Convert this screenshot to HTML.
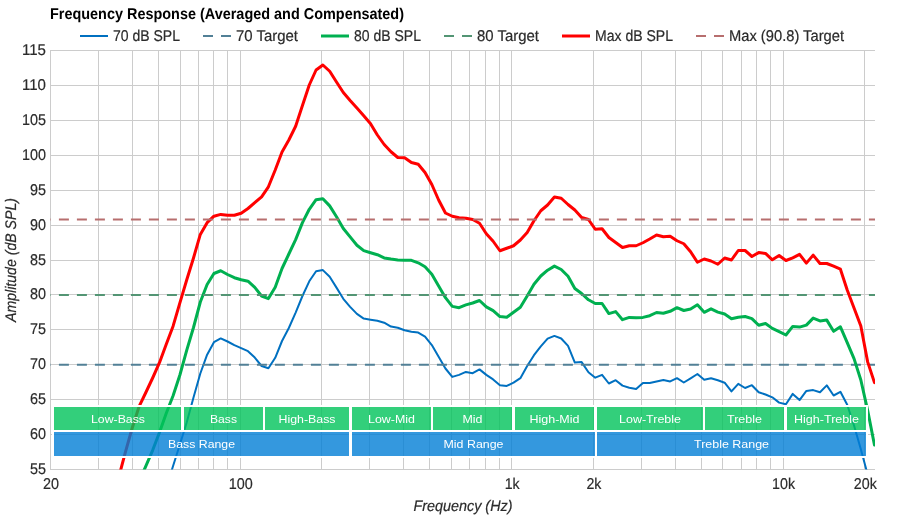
<!DOCTYPE html>
<html lang="en"><head><meta charset="utf-8"><title>Frequency Response (Averaged and Compensated)</title>
<style>html,body{margin:0;padding:0;background:#fff;}body{width:900px;height:520px;overflow:hidden;font-family:"Liberation Sans",sans-serif;}svg{display:block;}text{font-family:"Liberation Sans",sans-serif;}</style>
</head><body>
<svg width="900" height="520" viewBox="0 0 900 520">
<rect x="0" y="0" width="900" height="520" fill="#ffffff"/>
<defs><clipPath id="plot"><rect x="50.5" y="50" width="824.5" height="419.5"/></clipPath></defs>
<g stroke="#cccccc" stroke-width="1" fill="none" shape-rendering="crispEdges">
<line x1="50.5" y1="50.0" x2="50.5" y2="470.0"/>
<line x1="98.5" y1="50.0" x2="98.5" y2="470.0"/>
<line x1="132.5" y1="50.0" x2="132.5" y2="470.0"/>
<line x1="158.5" y1="50.0" x2="158.5" y2="470.0"/>
<line x1="180.5" y1="50.0" x2="180.5" y2="470.0"/>
<line x1="198.5" y1="50.0" x2="198.5" y2="470.0"/>
<line x1="213.5" y1="50.0" x2="213.5" y2="470.0"/>
<line x1="227.5" y1="50.0" x2="227.5" y2="470.0"/>
<line x1="240.5" y1="50.0" x2="240.5" y2="470.0"/>
<line x1="321.5" y1="50.0" x2="321.5" y2="470.0"/>
<line x1="369.5" y1="50.0" x2="369.5" y2="470.0"/>
<line x1="403.5" y1="50.0" x2="403.5" y2="470.0"/>
<line x1="429.5" y1="50.0" x2="429.5" y2="470.0"/>
<line x1="451.5" y1="50.0" x2="451.5" y2="470.0"/>
<line x1="469.5" y1="50.0" x2="469.5" y2="470.0"/>
<line x1="485.5" y1="50.0" x2="485.5" y2="470.0"/>
<line x1="499.5" y1="50.0" x2="499.5" y2="470.0"/>
<line x1="511.5" y1="50.0" x2="511.5" y2="470.0"/>
<line x1="593.5" y1="50.0" x2="593.5" y2="470.0"/>
<line x1="641.5" y1="50.0" x2="641.5" y2="470.0"/>
<line x1="675.5" y1="50.0" x2="675.5" y2="470.0"/>
<line x1="701.5" y1="50.0" x2="701.5" y2="470.0"/>
<line x1="722.5" y1="50.0" x2="722.5" y2="470.0"/>
<line x1="741.5" y1="50.0" x2="741.5" y2="470.0"/>
<line x1="756.5" y1="50.0" x2="756.5" y2="470.0"/>
<line x1="770.5" y1="50.0" x2="770.5" y2="470.0"/>
<line x1="783.5" y1="50.0" x2="783.5" y2="470.0"/>
<line x1="864.5" y1="50.0" x2="864.5" y2="470.0"/>
<line x1="50.0" y1="469.5" x2="875.0" y2="469.5"/>
<line x1="50.0" y1="434.5" x2="875.0" y2="434.5"/>
<line x1="50.0" y1="399.5" x2="875.0" y2="399.5"/>
<line x1="50.0" y1="364.5" x2="875.0" y2="364.5"/>
<line x1="50.0" y1="329.5" x2="875.0" y2="329.5"/>
<line x1="50.0" y1="294.5" x2="875.0" y2="294.5"/>
<line x1="50.0" y1="260.5" x2="875.0" y2="260.5"/>
<line x1="50.0" y1="225.5" x2="875.0" y2="225.5"/>
<line x1="50.0" y1="190.5" x2="875.0" y2="190.5"/>
<line x1="50.0" y1="155.5" x2="875.0" y2="155.5"/>
<line x1="50.0" y1="120.5" x2="875.0" y2="120.5"/>
<line x1="50.0" y1="85.5" x2="875.0" y2="85.5"/>
<line x1="50.0" y1="50.5" x2="875.0" y2="50.5"/>
</g>
<g clip-path="url(#plot)">
<path d="M166.26 488.00 L173.07 466.00 L179.88 444.50 L186.69 422.50 L193.50 397.50 L200.31 373.50 L207.12 354.70 L213.93 342.20 L220.74 338.40 L227.55 341.50 L234.36 345.20 L241.17 348.10 L247.98 351.20 L254.79 357.60 L261.60 366.00 L268.41 368.30 L275.22 357.80 L282.02 341.00 L288.83 328.00 L295.64 312.60 L302.45 296.00 L309.26 281.30 L316.07 271.20 L322.88 270.10 L329.69 276.80 L336.50 287.60 L343.31 298.80 L350.12 306.90 L356.93 313.90 L363.74 318.60 L370.55 319.70 L377.36 320.70 L384.17 322.70 L390.98 326.60 L397.79 327.80 L404.60 330.30 L411.41 331.80 L418.22 332.60 L425.03 336.70 L431.83 345.10 L438.64 356.80 L445.45 368.50 L452.26 376.90 L459.07 374.90 L465.88 371.90 L472.69 373.20 L479.50 369.40 L486.31 374.90 L493.12 379.40 L499.93 385.30 L506.74 385.90 L513.55 382.70 L520.36 378.20 L527.17 366.00 L533.98 355.20 L540.79 346.40 L547.60 338.70 L554.41 335.90 L561.22 338.50 L568.03 345.90 L574.84 362.60 L581.64 362.10 L588.45 372.30 L595.26 377.70 L602.07 374.80 L608.88 383.50 L615.69 380.20 L622.50 385.60 L629.31 387.70 L636.12 388.90 L642.93 382.90 L649.74 383.00 L656.55 381.50 L663.36 380.00 L670.17 381.40 L676.98 378.20 L683.79 382.50 L690.60 378.30 L697.41 374.00 L704.22 379.70 L711.03 378.20 L717.84 380.20 L724.65 382.70 L731.45 391.40 L738.26 383.80 L745.07 388.00 L751.88 385.20 L758.69 392.30 L765.50 394.50 L772.31 397.30 L779.12 402.60 L785.93 404.20 L792.74 393.90 L799.55 400.10 L806.36 390.90 L813.17 390.10 L819.98 392.30 L826.79 385.40 L833.60 395.50 L840.41 391.80 L847.22 404.80 L854.03 425.50 L860.84 449.30 L867.65 474.50 L872.65 493.00" fill="none" stroke="#0070c0" stroke-width="2" stroke-linejoin="round" stroke-linecap="round"/>
<line x1="40.9" y1="364.75" x2="880" y2="364.75" stroke="#528096" stroke-width="2" stroke-dasharray="10,8" fill="none"/>
<path d="M139.02 481.60 L145.83 466.20 L152.64 450.30 L159.45 432.50 L166.26 413.30 L173.07 395.80 L179.88 375.00 L186.69 350.30 L193.50 327.50 L200.31 302.00 L207.12 284.50 L213.93 273.50 L220.74 270.75 L227.55 274.50 L234.36 277.70 L241.17 279.80 L247.98 281.20 L254.79 287.30 L261.60 296.00 L268.41 298.60 L275.22 287.20 L282.02 268.50 L288.83 254.00 L295.64 239.60 L302.45 222.60 L309.26 209.30 L316.07 199.70 L322.88 198.70 L329.69 205.90 L336.50 216.80 L343.31 228.50 L350.12 236.90 L356.93 245.20 L363.74 250.60 L370.55 252.70 L377.36 254.70 L384.17 257.90 L390.98 259.10 L397.79 259.90 L404.60 260.30 L411.41 260.30 L418.22 262.80 L425.03 266.80 L431.83 274.30 L438.64 286.00 L445.45 297.70 L452.26 306.40 L459.07 307.70 L465.88 304.90 L472.69 303.00 L479.50 300.50 L486.31 306.90 L493.12 310.60 L499.93 316.60 L506.74 317.30 L513.55 312.20 L520.36 307.20 L527.17 296.00 L533.98 284.30 L540.79 276.00 L547.60 270.20 L554.41 266.10 L561.22 269.50 L568.03 276.30 L574.84 288.50 L581.64 293.50 L588.45 299.80 L595.26 303.50 L602.07 303.50 L608.88 313.60 L615.69 311.60 L622.50 319.70 L629.31 317.40 L636.12 317.70 L642.93 317.40 L649.74 315.70 L656.55 312.50 L663.36 313.30 L670.17 311.30 L676.98 307.70 L683.79 310.50 L690.60 309.00 L697.41 304.80 L704.22 312.30 L711.03 308.80 L717.84 312.10 L724.65 314.00 L731.45 318.70 L738.26 317.30 L745.07 316.50 L751.88 318.60 L758.69 325.30 L765.50 323.50 L772.31 328.40 L779.12 331.60 L785.93 335.00 L792.74 326.40 L799.55 327.10 L806.36 325.10 L813.17 318.10 L819.98 320.90 L826.79 320.10 L833.60 331.30 L840.41 326.80 L847.22 342.70 L854.03 358.60 L860.84 380.00 L867.65 410.40 L874.46 445.00" fill="none" stroke="#00b050" stroke-width="3" stroke-linejoin="round" stroke-linecap="round"/>
<line x1="40.9" y1="294.9" x2="880" y2="294.9" stroke="#539574" stroke-width="2" stroke-dasharray="10,8" fill="none"/>
<path d="M118.60 477.80 L125.41 452.20 L132.21 428.00 L139.02 406.70 L145.83 392.50 L152.64 378.00 L159.45 362.70 L166.26 344.30 L173.07 326.20 L179.88 302.80 L186.69 280.00 L193.50 258.00 L200.31 234.40 L207.12 222.70 L213.93 216.20 L220.74 214.40 L227.55 215.30 L234.36 215.30 L241.17 213.20 L247.98 208.50 L254.79 202.60 L261.60 196.80 L268.41 186.80 L275.22 170.00 L282.02 152.00 L288.83 140.00 L295.64 126.25 L302.45 105.50 L309.26 85.00 L316.07 70.00 L322.88 65.00 L329.69 71.25 L336.50 82.00 L343.31 92.50 L350.12 100.50 L356.93 108.00 L363.74 115.75 L370.55 123.75 L377.36 135.00 L384.17 144.50 L390.98 151.75 L397.79 157.50 L404.60 157.70 L411.41 162.50 L418.22 164.20 L425.03 172.50 L431.83 184.50 L438.64 200.00 L445.45 213.00 L452.26 216.25 L459.07 217.75 L465.88 218.25 L472.69 219.50 L479.50 223.25 L486.31 233.75 L493.12 241.25 L499.93 250.75 L506.74 248.25 L513.55 245.75 L520.36 240.00 L527.17 232.50 L533.98 220.75 L540.79 210.75 L547.60 205.00 L554.41 197.00 L561.22 198.25 L568.03 204.50 L574.84 210.00 L581.64 217.50 L588.45 219.50 L595.26 229.25 L602.07 228.75 L608.88 237.50 L615.69 242.50 L622.50 247.50 L629.31 245.75 L636.12 245.75 L642.93 242.75 L649.74 239.00 L656.55 235.00 L663.36 236.75 L670.17 236.25 L676.98 240.75 L683.79 243.75 L690.60 251.75 L697.41 262.25 L704.22 259.00 L711.03 261.00 L717.84 264.25 L724.65 258.00 L731.45 260.00 L738.26 250.50 L745.07 250.50 L751.88 256.50 L758.69 252.60 L765.50 253.40 L772.31 259.80 L779.12 255.50 L785.93 260.50 L792.74 257.80 L799.55 254.40 L806.36 263.10 L813.17 255.10 L819.98 263.50 L826.79 263.50 L833.60 266.20 L840.41 269.20 L847.22 290.00 L854.03 308.00 L860.84 326.00 L867.65 361.90 L874.46 382.60" fill="none" stroke="#ff0000" stroke-width="3" stroke-linejoin="round" stroke-linecap="round"/>
<line x1="40.9" y1="219.5" x2="880" y2="219.5" stroke="#b76e6e" stroke-width="2" stroke-dasharray="10,8" fill="none"/>
</g>
<path d="M52 405H868V458H52ZM54 407H181V430H54ZM184 407H263V430H184ZM265 407H349V430H265ZM352 407H431V430H352ZM433 407H512V430H433ZM515 407H594V430H515ZM597 407H703V430H597ZM705 407H784V430H705ZM787 407H866V430H787ZM54 432H349V456H54ZM352 432H595V456H352ZM597 432H866V456H597Z" fill="#ffffff" fill-rule="evenodd"/>
<rect x="54" y="407" width="127" height="23" fill="rgb(0,195,90)" fill-opacity="0.8"/>
<rect x="184" y="407" width="79" height="23" fill="rgb(0,195,90)" fill-opacity="0.8"/>
<rect x="265" y="407" width="84" height="23" fill="rgb(0,195,90)" fill-opacity="0.8"/>
<rect x="352" y="407" width="79" height="23" fill="rgb(0,195,90)" fill-opacity="0.8"/>
<rect x="433" y="407" width="79" height="23" fill="rgb(0,195,90)" fill-opacity="0.8"/>
<rect x="515" y="407" width="79" height="23" fill="rgb(0,195,90)" fill-opacity="0.8"/>
<rect x="597" y="407" width="106" height="23" fill="rgb(0,195,90)" fill-opacity="0.8"/>
<rect x="705" y="407" width="79" height="23" fill="rgb(0,195,90)" fill-opacity="0.8"/>
<rect x="787" y="407" width="79" height="23" fill="rgb(0,195,90)" fill-opacity="0.8"/>
<rect x="54" y="432" width="295" height="24" fill="rgb(1,126,214)" fill-opacity="0.8"/>
<rect x="352" y="432" width="243" height="24" fill="rgb(1,126,214)" fill-opacity="0.8"/>
<rect x="597" y="432" width="269" height="24" fill="rgb(1,126,214)" fill-opacity="0.8"/>
<text x="91.0" y="423.4" font-size="11.3px" fill="#ffffff" textLength="54" lengthAdjust="spacingAndGlyphs">Low-Bass</text>
<text x="210.0" y="423.4" font-size="11.3px" fill="#ffffff" textLength="27" lengthAdjust="spacingAndGlyphs">Bass</text>
<text x="278.5" y="423.4" font-size="11.3px" fill="#ffffff" textLength="57" lengthAdjust="spacingAndGlyphs">High-Bass</text>
<text x="368.0" y="423.4" font-size="11.3px" fill="#ffffff" textLength="47" lengthAdjust="spacingAndGlyphs">Low-Mid</text>
<text x="462.5" y="423.4" font-size="11.3px" fill="#ffffff" textLength="20" lengthAdjust="spacingAndGlyphs">Mid</text>
<text x="529.5" y="423.4" font-size="11.3px" fill="#ffffff" textLength="50" lengthAdjust="spacingAndGlyphs">High-Mid</text>
<text x="619.0" y="423.4" font-size="11.3px" fill="#ffffff" textLength="62" lengthAdjust="spacingAndGlyphs">Low-Treble</text>
<text x="727.0" y="423.4" font-size="11.3px" fill="#ffffff" textLength="35" lengthAdjust="spacingAndGlyphs">Treble</text>
<text x="794.0" y="423.4" font-size="11.3px" fill="#ffffff" textLength="65" lengthAdjust="spacingAndGlyphs">High-Treble</text>
<text x="168.0" y="448.4" font-size="11.3px" fill="#ffffff" textLength="67" lengthAdjust="spacingAndGlyphs">Bass Range</text>
<text x="443.5" y="448.4" font-size="11.3px" fill="#ffffff" textLength="60" lengthAdjust="spacingAndGlyphs">Mid Range</text>
<text x="694.0" y="448.4" font-size="11.3px" fill="#ffffff" textLength="75" lengthAdjust="spacingAndGlyphs">Treble Range</text>
<text x="30.0" y="474.0" font-size="15.6px" fill="#2b2b2b" text-rendering="geometricPrecision" stroke="#2b2b2b" stroke-width="0.2" textLength="16" lengthAdjust="spacingAndGlyphs">55</text>
<text x="30.0" y="439.0" font-size="15.6px" fill="#2b2b2b" text-rendering="geometricPrecision" stroke="#2b2b2b" stroke-width="0.2" textLength="16" lengthAdjust="spacingAndGlyphs">60</text>
<text x="30.0" y="404.0" font-size="15.6px" fill="#2b2b2b" text-rendering="geometricPrecision" stroke="#2b2b2b" stroke-width="0.2" textLength="16" lengthAdjust="spacingAndGlyphs">65</text>
<text x="30.0" y="369.0" font-size="15.6px" fill="#2b2b2b" text-rendering="geometricPrecision" stroke="#2b2b2b" stroke-width="0.2" textLength="16" lengthAdjust="spacingAndGlyphs">70</text>
<text x="30.0" y="334.0" font-size="15.6px" fill="#2b2b2b" text-rendering="geometricPrecision" stroke="#2b2b2b" stroke-width="0.2" textLength="16" lengthAdjust="spacingAndGlyphs">75</text>
<text x="30.0" y="299.0" font-size="15.6px" fill="#2b2b2b" text-rendering="geometricPrecision" stroke="#2b2b2b" stroke-width="0.2" textLength="16" lengthAdjust="spacingAndGlyphs">80</text>
<text x="30.0" y="265.0" font-size="15.6px" fill="#2b2b2b" text-rendering="geometricPrecision" stroke="#2b2b2b" stroke-width="0.2" textLength="16" lengthAdjust="spacingAndGlyphs">85</text>
<text x="30.0" y="230.0" font-size="15.6px" fill="#2b2b2b" text-rendering="geometricPrecision" stroke="#2b2b2b" stroke-width="0.2" textLength="16" lengthAdjust="spacingAndGlyphs">90</text>
<text x="30.0" y="195.0" font-size="15.6px" fill="#2b2b2b" text-rendering="geometricPrecision" stroke="#2b2b2b" stroke-width="0.2" textLength="16" lengthAdjust="spacingAndGlyphs">95</text>
<text x="22.0" y="160.0" font-size="15.6px" fill="#2b2b2b" text-rendering="geometricPrecision" stroke="#2b2b2b" stroke-width="0.2" textLength="24" lengthAdjust="spacingAndGlyphs">100</text>
<text x="22.0" y="125.0" font-size="15.6px" fill="#2b2b2b" text-rendering="geometricPrecision" stroke="#2b2b2b" stroke-width="0.2" textLength="24" lengthAdjust="spacingAndGlyphs">105</text>
<text x="22.0" y="90.0" font-size="15.6px" fill="#2b2b2b" text-rendering="geometricPrecision" stroke="#2b2b2b" stroke-width="0.2" textLength="24" lengthAdjust="spacingAndGlyphs">110</text>
<text x="22.0" y="55.0" font-size="15.6px" fill="#2b2b2b" text-rendering="geometricPrecision" stroke="#2b2b2b" stroke-width="0.2" textLength="24" lengthAdjust="spacingAndGlyphs">115</text>
<text x="43.0" y="489" font-size="15.6px" fill="#2b2b2b" text-rendering="geometricPrecision" stroke="#2b2b2b" stroke-width="0.2" textLength="16" lengthAdjust="spacingAndGlyphs">20</text>
<text x="228.7" y="489" font-size="15.6px" fill="#2b2b2b" text-rendering="geometricPrecision" stroke="#2b2b2b" stroke-width="0.2" textLength="24" lengthAdjust="spacingAndGlyphs">100</text>
<text x="504.7" y="489" font-size="15.6px" fill="#2b2b2b" text-rendering="geometricPrecision" stroke="#2b2b2b" stroke-width="0.2" textLength="15" lengthAdjust="spacingAndGlyphs">1k</text>
<text x="586.4" y="489" font-size="15.6px" fill="#2b2b2b" text-rendering="geometricPrecision" stroke="#2b2b2b" stroke-width="0.2" textLength="15" lengthAdjust="spacingAndGlyphs">2k</text>
<text x="772.1" y="489" font-size="15.6px" fill="#2b2b2b" text-rendering="geometricPrecision" stroke="#2b2b2b" stroke-width="0.2" textLength="23" lengthAdjust="spacingAndGlyphs">10k</text>
<text x="853.8" y="489" font-size="15.6px" fill="#2b2b2b" text-rendering="geometricPrecision" stroke="#2b2b2b" stroke-width="0.2" textLength="23" lengthAdjust="spacingAndGlyphs">20k</text>
<text x="413.5" y="510.6" font-size="15.3px" fill="#2b2b2b" font-style="italic" text-rendering="geometricPrecision" stroke="#2b2b2b" stroke-width="0.2" textLength="99" lengthAdjust="spacingAndGlyphs">Frequency (Hz)</text>
<text x="-62.0" y="0" font-size="15.3px" fill="#2b2b2b" font-style="italic" text-rendering="geometricPrecision" stroke="#2b2b2b" stroke-width="0.2" textLength="124" lengthAdjust="spacingAndGlyphs" transform="translate(16,260) rotate(-90)">Amplitude (dB SPL)</text>
<text x="50.0" y="19" font-size="15.6px" fill="#000000" font-weight="bold" text-rendering="geometricPrecision" textLength="354" lengthAdjust="spacingAndGlyphs">Frequency Response (Averaged and Compensated)</text>
<path d="M80 36 h28" stroke="#0070c0" stroke-width="2" fill="none"/>
<text x="113.0" y="41" font-size="15.6px" fill="#2b2b2b" text-rendering="geometricPrecision" stroke="#2b2b2b" stroke-width="0.2" textLength="67" lengthAdjust="spacingAndGlyphs">70 dB SPL</text>
<path d="M203 36 h10 m8 0 h10" stroke="#528096" stroke-width="2" fill="none"/>
<text x="236.0" y="41" font-size="15.6px" fill="#2b2b2b" text-rendering="geometricPrecision" stroke="#2b2b2b" stroke-width="0.2" textLength="62" lengthAdjust="spacingAndGlyphs">70 Target</text>
<path d="M321 36 h28" stroke="#00b050" stroke-width="3" fill="none"/>
<text x="354.0" y="41" font-size="15.6px" fill="#2b2b2b" text-rendering="geometricPrecision" stroke="#2b2b2b" stroke-width="0.2" textLength="67" lengthAdjust="spacingAndGlyphs">80 dB SPL</text>
<path d="M444 36 h10 m8 0 h10" stroke="#539574" stroke-width="2" fill="none"/>
<text x="477.0" y="41" font-size="15.6px" fill="#2b2b2b" text-rendering="geometricPrecision" stroke="#2b2b2b" stroke-width="0.2" textLength="62" lengthAdjust="spacingAndGlyphs">80 Target</text>
<path d="M562 36 h28" stroke="#ff0000" stroke-width="3" fill="none"/>
<text x="595.0" y="41" font-size="15.6px" fill="#2b2b2b" text-rendering="geometricPrecision" stroke="#2b2b2b" stroke-width="0.2" textLength="78" lengthAdjust="spacingAndGlyphs">Max dB SPL</text>
<path d="M696 36 h10 m8 0 h10" stroke="#b76e6e" stroke-width="2" fill="none"/>
<text x="729.0" y="41" font-size="15.6px" fill="#2b2b2b" text-rendering="geometricPrecision" stroke="#2b2b2b" stroke-width="0.2" textLength="115" lengthAdjust="spacingAndGlyphs">Max (90.8) Target</text>
</svg>
</body></html>
